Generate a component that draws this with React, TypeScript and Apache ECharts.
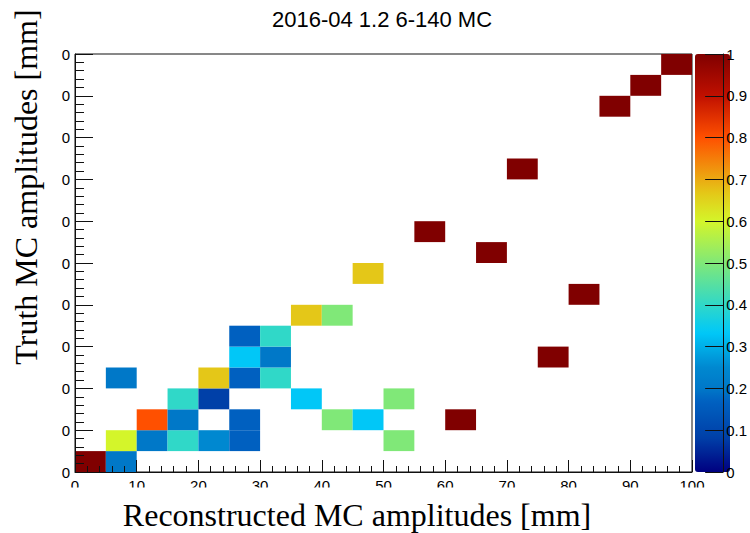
import React, { useEffect, useRef } from "react";
import * as echarts from "echarts";

const TITLE = "2016-04 1.2 6-140 MC";
const X_TITLE = "Reconstructed MC amplitudes [mm]";
const Y_TITLE = "Truth MC amplitudes [mm]";

const BIN = 5;
// lower edges (mm) of each filled bin and its column-normalised fraction
const recoLow = [0, 5, 5, 5, 10, 10, 15, 15, 15, 20, 20, 20, 25, 25, 25, 25, 25, 30, 30, 30, 35, 35, 40, 40, 45, 45, 50, 50, 55, 60, 65, 70, 75, 80, 85, 90, 95];
const truthLow = [0, 0, 5, 20, 5, 10, 5, 10, 15, 5, 15, 20, 5, 10, 20, 25, 30, 20, 25, 30, 15, 35, 10, 35, 10, 45, 5, 15, 55, 10, 50, 70, 25, 40, 85, 90, 95];
const fraction = [1, 0.2, 0.6, 0.2, 0.2, 0.8, 0.4, 0.2, 0.4, 0.25, 0.083, 0.667, 0.167, 0.167, 0.167, 0.333, 0.167, 0.4, 0.2, 0.4, 0.333, 0.667, 0.5, 0.5, 0.333, 0.667, 0.5, 0.5, 1, 1, 1, 1, 1, 1, 1, 1, 1];

const xTickLabels = ["0", "10", "20", "30", "40", "50", "60", "70", "80", "90", "100"];
const yTickLabels = ["0", "0", "0", "0", "0", "0", "0", "0", "0", "0", "0"];
const zTickLabels = ["0", "0.1", "0.2", "0.3", "0.4", "0.5", "0.6", "0.7", "0.8", "0.9", "1"];

const paletteStops: [number, string][] = [
  [0, "#000080"],
  [0.083, "#0040a8"],
  [0.167, "#0060c0"],
  [0.2, "#0078c8"],
  [0.25, "#0088d0"],
  [0.333, "#00c8f8"],
  [0.4, "#30d8c8"],
  [0.5, "#80e878"],
  [0.6, "#d4f52a"],
  [0.667, "#e4c818"],
  [0.8, "#ff5000"],
  [0.9, "#c01000"],
  [1, "#800000"],
];

function hexToRgb(h: string) {
  return [parseInt(h.slice(1, 3), 16), parseInt(h.slice(3, 5), 16), parseInt(h.slice(5, 7), 16)];
}
function buildPalette(n: number) {
  const out: string[] = [];
  for (let k = 0; k <= n; k++) {
    const t = k / n;
    let i = 0;
    while (i < paletteStops.length - 2 && t > paletteStops[i + 1][0]) i++;
    const [t0, c0] = paletteStops[i];
    const [t1, c1] = paletteStops[i + 1];
    const f = Math.min(1, Math.max(0, (t - t0) / (t1 - t0)));
    const a = hexToRgb(c0);
    const b = hexToRgb(c1);
    const r = a.map((v, j) => Math.round(v + (b[j] - v) * f));
    out.push(`rgb(${r[0]},${r[1]},${r[2]})`);
  }
  return out;
}

const AX = "#111";
const SANS = "Liberation Sans";
const SERIF = "Liberation Serif";

// tick-only axes (no line, no labels) sharing the main grid
function tickAxis(position: string, interval: number, length: number) {
  return {
    gridIndex: 0, type: "value", position, min: 0, max: 100, interval, z: 6,
    axisLine: { show: false },
    axisTick: { show: true, inside: true, length, lineStyle: { color: AX, width: 1 } },
    axisLabel: { show: false },
    splitLine: { show: false },
  };
}

export default function App() {
  const ref = useRef<HTMLDivElement>(null);
  useEffect(() => {
    const chart = echarts.init(ref.current!, null, { renderer: "svg" });
    const data = recoLow.map((x, i) => [x, truthLow[i], fraction[i]]);
    const option: any = {
      animation: false,
      backgroundColor: "#fff",
      grid: [
        { left: 75, top: 54, width: 617, height: 418, show: true, borderColor: AX, borderWidth: 1, backgroundColor: "transparent" },
        { left: 695, top: 54, width: 35, height: 418, show: false },
      ],
      xAxis: [
        {
          gridIndex: 0, type: "value", position: "bottom", min: 0, max: 100, interval: 10, z: 6,
          axisLine: { show: true, onZero: false, lineStyle: { color: AX } },
          axisTick: { show: false },
          splitLine: { show: false },
          axisLabel: { color: "#000", fontFamily: SANS, fontSize: 15, margin: 6, formatter: (v: number) => xTickLabels[Math.round(v / 10)] },
        },
        { gridIndex: 1, type: "value", min: 0, max: 1, show: false },
        tickAxis("bottom", 2, 6),
        tickAxis("bottom", 10, 12),
      ],
      yAxis: [
        {
          gridIndex: 0, type: "value", position: "left", min: 0, max: 100, interval: 10, z: 6,
          axisLine: { show: true, onZero: false, lineStyle: { color: AX } },
          axisTick: { show: false },
          splitLine: { show: false },
          axisLabel: { color: "#000", fontFamily: SANS, fontSize: 15, margin: 5, formatter: (v: number) => yTickLabels[Math.round(v / 10)] },
        },
        {
          gridIndex: 1, type: "value", position: "right", min: 0, max: 1, interval: 0.1, z: 6,
          axisLine: { show: true, onZero: false, lineStyle: { color: AX } },
          axisTick: { show: true, inside: true, length: 18, lineStyle: { color: AX, width: 1 } },
          splitLine: { show: false },
          axisLabel: { color: "#000", fontFamily: SANS, fontSize: 15, margin: 3, formatter: (v: number) => zTickLabels[Math.round(v * 10)] },
        },
        tickAxis("left", 2, 9),
        tickAxis("left", 10, 18),
      ],
      visualMap: {
        type: "continuous", min: 0, max: 1, dimension: 2, seriesIndex: 0, z: 2,
        left: 695, top: 54, itemWidth: 35, itemHeight: 418, padding: 0,
        calculable: false, hoverLink: false, orient: "vertical",
        inRange: { color: buildPalette(200) },
      },
      series: [
        {
          type: "custom", coordinateSystem: "cartesian2d", xAxisIndex: 0, yAxisIndex: 0, z: 2,
          encode: { x: 0, y: 1 },
          data,
          renderItem: (params: any, api: any) => {
            const x = api.value(0);
            const y = api.value(1);
            const p0 = api.coord([x, y + BIN]);
            const p1 = api.coord([x + BIN, y]);
            return {
              type: "rect",
              shape: { x: p0[0], y: p0[1], width: p1[0] - p0[0], height: p1[1] - p0[1] },
              style: { fill: api.visual("color") },
            };
          },
        },
      ],
      graphic: [
        { type: "rect", z: 100, shape: { x: 60, y: 487.5, width: 660, height: 9 }, style: { fill: "#fff" } },
        { type: "text", z: 101, x: 382, y: 19, style: { text: TITLE, align: "center", verticalAlign: "middle", font: `22px "${SANS}"`, fill: "#000" } },
        { type: "text", z: 101, x: 357, y: 515, style: { text: X_TITLE, align: "center", verticalAlign: "middle", font: `32px "${SERIF}"`, fill: "#000" } },
        { type: "text", z: 101, x: 26, y: 187, rotation: Math.PI / 2, style: { text: Y_TITLE, align: "center", verticalAlign: "middle", font: `32px "${SERIF}"`, fill: "#000" } },
      ],
    };
    chart.setOption(option);
    return () => chart.dispose();
  }, []);
  return <div ref={ref} style={{ position: "absolute", left: 0, top: 0, width: 750, height: 533 }} />;
}
